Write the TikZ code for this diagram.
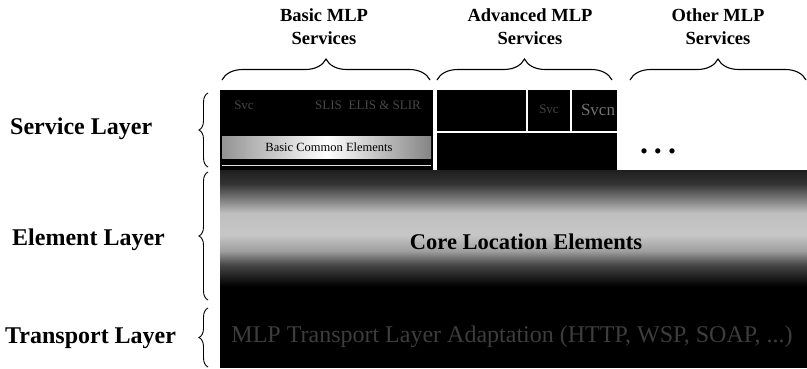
\documentclass[tikz,border=0pt]{standalone}
\usepackage{fontspec}
\setmainfont{Liberation Serif}
\usetikzlibrary{decorations.pathreplacing}
% vertical fade of the element layer (25bp = lower edge, 75bp = upper edge):
% black bottom, light middle band, dark top
\pgfdeclareverticalshading{corefade}{100bp}{%
  color(0bp)=(black); color(25bp)=(black); color(32bp)=(black);
  color(40bp)=(black!72); color(45bp)=(black!38); color(51bp)=(black!22);
  color(59bp)=(black!25); color(64bp)=(black!50); color(70bp)=(black!80);
  color(75bp)=(black!88); color(100bp)=(black!88)}
\tikzset{
  hdr/.style={font=\fontsize{18.5}{23}\selectfont\bfseries, align=center, inner sep=0pt},
  lbl/.style={font=\fontsize{24}{28}\selectfont\bfseries, inner sep=0pt, anchor=west},
  topbrace/.style={decorate, decoration={brace, amplitude=21pt}, line width=1.1pt},
  sidebrace/.style={decorate, decoration={brace, amplitude=9pt}, line width=0.9pt},
  darkbox/.style={fill=black, draw=none},
  faint/.style={text=black!72, font=\fontsize{13}{15}\selectfont, inner sep=0pt},
}
\begin{document}
\begin{tikzpicture}[x=1pt, y=-1pt]
\useasboundingbox (0,0) rectangle (807,368);

% column headers
\node[hdr] (hbasic) at (324,27) {Basic MLP\\Services};
\node[hdr] (hadv) at (530,27) {Advanced MLP\\Services};
\node[hdr] (hother) at (718,27) {Other MLP\\Services};

% column braces
\coordinate (b1) at (222,80); \coordinate (b2) at (430,80);
\coordinate (a1) at (437,80); \coordinate (a2) at (612,80);
\coordinate (o1) at (630,80); \coordinate (o2) at (806,80);
\draw[topbrace] (b1) -- (b2);
\draw[topbrace] (a1) -- (a2);
\draw[topbrace] (o1) -- (o2);

% layer labels and braces
\node[lbl] (lserv) at (10,129) {Service Layer};
\node[lbl] (lelem) at (12,240) {Element Layer};
\node[lbl] (ltrans) at (5,338) {Transport Layer};
\coordinate (s1) at (208,167); \coordinate (s2) at (208,93);
\coordinate (e1) at (208,300); \coordinate (e2) at (208,172);
\coordinate (t1) at (208,367); \coordinate (t2) at (208,308);
\draw[sidebrace] (s1) -- (s2);
\draw[sidebrace] (e1) -- (e2);
\draw[sidebrace] (t1) -- (t2);

% basic services block
\fill[darkbox] (220,90) rectangle (433,170);
\node[faint] (svc0) at (244,105) {Svc};
\node[faint] (slis) at (368,105) {SLIS \;ELIS \& SLIR};
\shade[left color=black!42, right color=black!48, middle color=white]
  (222,136) rectangle (431,158);
\node[font=\fontsize{12.5}{14}\selectfont, inner sep=0pt] (bce) at (329,147) {Basic Common Elements};
\draw[black!12, line width=1pt] (222,165) -- (431,165);

% advanced services block
\fill[darkbox] (437,90) rectangle (526,131);
\fill[darkbox] (528,90) rectangle (570,131);
\fill[darkbox] (572,90) rectangle (617,131);
\fill[darkbox] (437,133) rectangle (617,170);
\begin{scope}
  \clip (528,90) rectangle (570,131);
  \node[faint] (svc1) at (549,109) {Svc};
\end{scope}
\begin{scope}
  \clip (572,90) rectangle (617,131);
  \node[faint, font=\fontsize{17}{19}\selectfont, text=black!55] (svcn) at (598,110) {Svcn};
\end{scope}

% other services
\node[font=\fontsize{32}{34}\selectfont\bfseries, inner sep=0pt] (dots) at (658,151)
  {.\hspace{6pt}.\hspace{6pt}.};

% element layer
\shade[shading=corefade] (220,170) rectangle (807,305);
\node[font=\fontsize{22.5}{26}\selectfont\bfseries, inner sep=0pt] (core) at (526,242) {Core Location Elements};

% transport layer
\fill[darkbox] (220,305) rectangle (807,368);
\node[faint, font=\fontsize{24}{26}\selectfont, text=black!76] (tproto) at (512,337)
  {MLP Transport Layer Adaptation (HTTP, WSP, SOAP, ...)};
\end{tikzpicture}
\end{document}
